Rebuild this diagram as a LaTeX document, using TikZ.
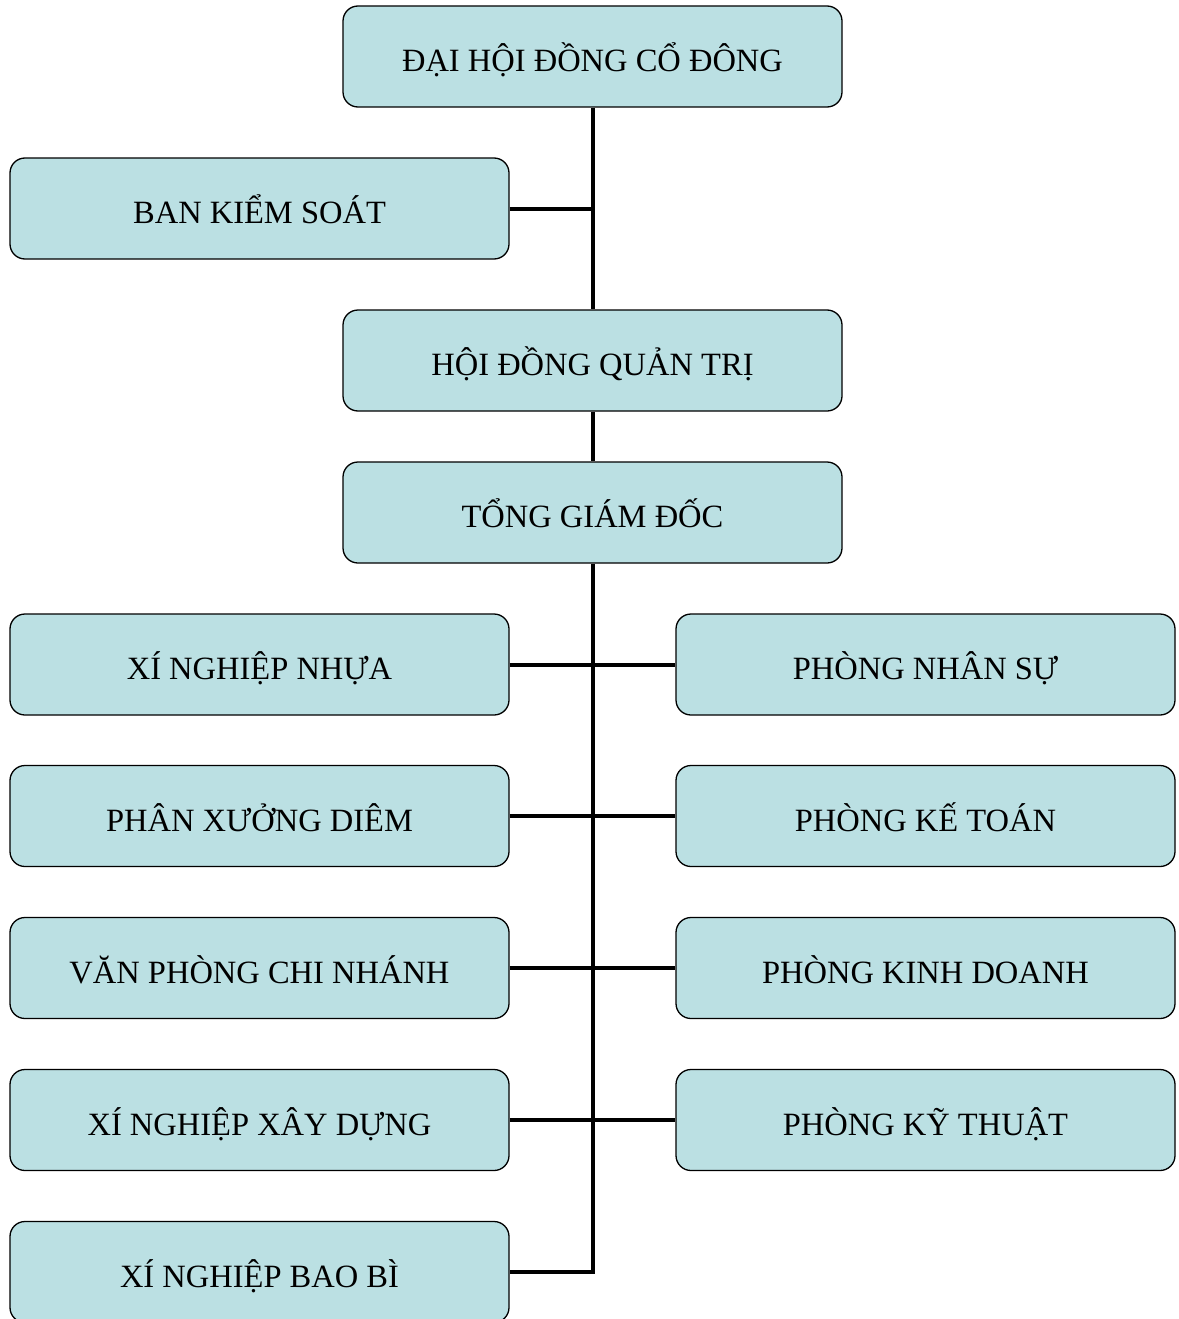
\documentclass[tikz,border=0pt]{standalone}
\usepackage{fontspec}
\setmainfont{Liberation Serif}
\definecolor{boxfill}{RGB}{187,224,227}
\begin{document}
\begin{tikzpicture}[x=1pt,y=-1pt,
  orgbox/.style={draw=black, line width=1.3pt, fill=boxfill, rounded corners=15pt,
    minimum width=499pt, minimum height=101pt, inner sep=0pt,
    text height=34pt, text depth=4pt, font=\fontsize{32.5}{36}\selectfont},
  link/.style={line width=4pt}]
\useasboundingbox (0,0) rectangle (1178,1319);
\node[orgbox] (dh) at (592.5,56.5) {ĐẠI HỘI ĐỒNG CỔ ĐÔNG};
\node[orgbox] (bks) at (259.5,208.5) {BAN KIỂM SOÁT};
\node[orgbox] (hd) at (592.5,360.5) {HỘI ĐỒNG QUẢN TRỊ};
\node[orgbox] (tgd) at (592.5,512.5) {TỔNG GIÁM ĐỐC};
\node[orgbox] (l1) at (259.5,664.5) {XÍ NGHIỆP NHỰA};
\node[orgbox] (l2) at (259.5,816) {PHÂN XƯỞNG DIÊM};
\node[orgbox] (l3) at (259.5,968) {VĂN PHÒNG CHI NHÁNH};
\node[orgbox] (l4) at (259.5,1120) {XÍ NGHIỆP XÂY DỰNG};
\node[orgbox] (l5) at (259.5,1272) {XÍ NGHIỆP BAO BÌ};
\node[orgbox] (r1) at (925.5,664.5) {PHÒNG NHÂN SỰ};
\node[orgbox] (r2) at (925.5,816) {PHÒNG KẾ TOÁN};
\node[orgbox] (r3) at (925.5,968) {PHÒNG KINH DOANH};
\node[orgbox] (r4) at (925.5,1120) {PHÒNG KỸ THUẬT};
\coordinate (corner) at (592.5,1272);
\draw[link] (dh.south) -- (hd.north);
\draw[link] (bks.east) -- (bks.east -| dh.south);
\draw[link] (hd.south) -- (tgd.north);
\draw[link] (tgd.south) -- (corner) -- (l5.east);
\draw[link] (l1.east) -- (r1.west);
\draw[link] (l2.east) -- (r2.west);
\draw[link] (l3.east) -- (r3.west);
\draw[link] (l4.east) -- (r4.west);
\end{tikzpicture}
\end{document}
